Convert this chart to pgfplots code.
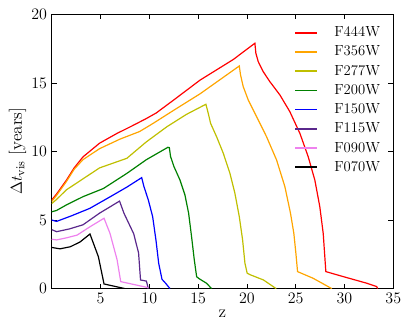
\documentclass[border=0pt]{standalone}
\usepackage{pgfplots}
\pgfplotsset{compat=1.18}
\definecolor{cF444}{RGB}{255,0,0}
\definecolor{cF356}{RGB}{255,165,0}
\definecolor{cF277}{RGB}{191,191,0}
\definecolor{cF200}{RGB}{0,128,0}
\definecolor{cF150}{RGB}{0,0,255}
\definecolor{cF115}{RGB}{90,40,140}
\definecolor{cF090}{RGB}{238,130,238}
\definecolor{cF070}{RGB}{0,0,0}

\begin{document}
\begin{tikzpicture}
% page = 409x327 px at 0.75pt per px
\useasboundingbox (-38.8pt,-28.7pt) rectangle (268pt,216.5pt);
\begin{axis}[
  scale only axis,
  width=256.2pt, height=205.8pt,
  xmin=0, xmax=35, ymin=0, ymax=20,
  xtick={5,10,...,35}, ytick={0,5,...,20},
  tick align=inside, tick pos=both,
  major tick length=3.8pt,
  tick style={black, line width=0.5pt},
  axis line style={line width=0.6pt},
  ticklabel style={font=\fontsize{13}{15}\selectfont},
  xlabel={z}, ylabel={$\Delta t_{\rm vis}$ [years]},
  label style={font=\fontsize{13}{15}\selectfont},
  xlabel style={yshift=2pt},
  ylabel style={yshift=-3pt},
  legend style={draw=none, fill=none, at={(0.7,0.975)}, anchor=north west,
    font=\fontsize{11}{13}\selectfont, row sep=1.4pt},
  legend cell align=left,
  legend image code/.code={\fill[#1, draw=none] (0cm,-0.6pt) rectangle (0.58cm,0.6pt); \path (0.95cm,0cm);},
  every axis plot/.append style={line width=0.9pt},
]
\addplot[cF444] coordinates {(0,6.46)(0.5,6.9)(1.5,7.9)(2.3,8.8)(3.2,9.6)(4.9,10.6)(6.65,11.3)(8.2,11.85)(9.7,12.4)(10.7,12.8)(12.5,13.75)(15.2,15.2)(18.6,16.7)(20.82,17.89)(20.92,17.16)(21.16,16.55)(21.67,15.82)(22.35,15.09)(23.38,14.12)(24.4,12.9)(25.43,11.32)(26.28,9.62)(26.96,7.92)(27.47,5.98)(27.82,4.03)(28.09,1.24)(29.9,0.87)(32.3,0.39)(33.3,0.15)(33.4,0)};
\addlegendentry{F444W}
\addplot[cF356] coordinates {(0,6.35)(0.5,6.8)(1.5,7.8)(2.3,8.7)(3.2,9.4)(4.9,10.2)(7.0,10.9)(9.0,11.45)(10.4,12.05)(12.5,13.0)(15.2,14.2)(19.22,16.23)(19.35,15.58)(19.62,14.73)(20.14,13.75)(20.99,12.54)(22.01,11.08)(23.04,9.38)(23.89,7.44)(24.47,5.49)(24.81,4.03)(25.02,2.58)(25.19,1.24)(26.8,0.75)(28.7,0)};
\addlegendentry{F356W}
\addplot[cF277] coordinates {(0,6.2)(0.5,6.5)(1.5,7.2)(3.2,8.0)(4.9,8.8)(7.7,9.5)(9.7,10.7)(11.8,11.8)(13.8,12.7)(15.8,13.44)(16.04,12.78)(16.28,12.05)(16.89,11.08)(17.58,9.87)(18.26,8.41)(18.77,6.95)(19.22,5.25)(19.56,3.55)(19.8,1.85)(20.03,1.12)(20.38,1.0)(21.7,0.63)(23.0,0)};
\addlegendentry{F277W}
\addplot[cF200] coordinates {(0,5.6)(0.5,5.7)(1.5,6.1)(3.2,6.7)(5.3,7.3)(7.7,8.4)(9.7,9.4)(11.9,10.3)(12.05,10.28)(12.18,9.62)(12.53,8.89)(13.14,7.92)(13.65,6.83)(14.03,5.49)(14.33,3.79)(14.61,2.09)(14.85,0.87)(15.09,0.73)(15.87,0.39)(16.38,0)};
\addlegendentry{F200W}
\addplot[cF150] coordinates {(0,5.0)(0.5,4.9)(2.0,5.3)(3.9,5.85)(6.0,6.7)(7.7,7.4)(9.22,8.09)(9.45,7.44)(9.9,6.46)(10.34,5.25)(10.68,3.55)(10.96,1.85)(11.3,0.68)(11.67,0.39)(12.12,0)};
\addlegendentry{F150W}
\addplot[cF115] coordinates {(0,4.3)(0.5,4.15)(1.8,4.35)(3.2,4.65)(4.9,5.5)(6.95,6.38)(7.4,5.5)(8.4,4.0)(8.9,2.6)(9.1,0.63)(9.7,0.55)(9.9,0)};
\addlegendentry{F115W}
\addplot[cF090] coordinates {(0,3.6)(0.5,3.55)(1.5,3.7)(2.6,3.9)(3.9,4.5)(5.36,5.13)(5.97,4.03)(6.7,2.1)(7.07,0.51)(9.9,0.07)};
\addlegendentry{F090W}
\addplot[cF070] coordinates {(0,3.0)(0.85,2.9)(1.9,3.05)(2.9,3.4)(3.92,3.98)(4.78,2.33)(5.36,0.34)(7.5,0.0)};
\addlegendentry{F070W}
\end{axis}
\end{tikzpicture}
\end{document}
